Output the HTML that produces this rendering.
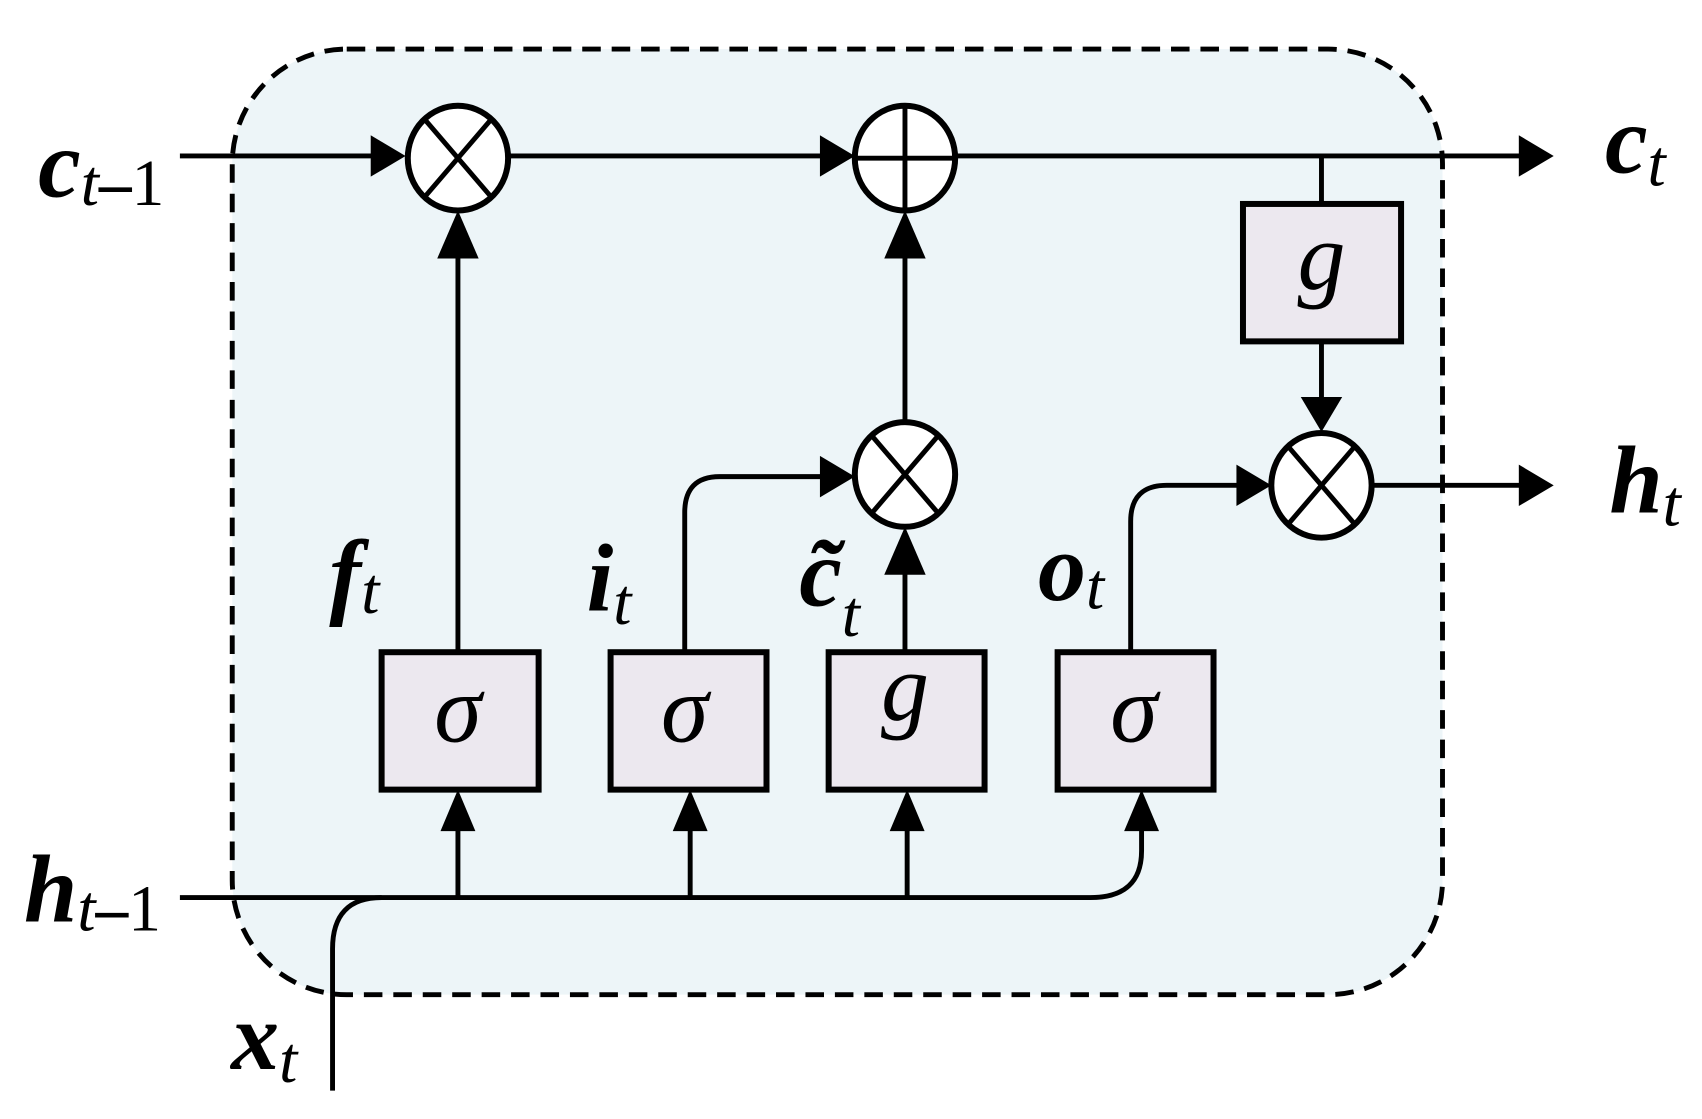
<!DOCTYPE html>
<html><head><meta charset="utf-8"><style>
html,body{margin:0;padding:0;background:#fff;}
svg{display:block;}
</style></head><body>
<svg width="1702" height="1119" viewBox="0 0 1561 1026" preserveAspectRatio="none" xmlns="http://www.w3.org/2000/svg" font-family="'Liberation Serif', 'Times New Roman', serif">
<rect x="213" y="45" width="1110" height="867" rx="105" ry="105" fill="#edf5f8" stroke="#000" stroke-width="4.5" stroke-dasharray="17,10"/>
<g stroke="#000" stroke-width="4.5" fill="none">
<line x1="165" y1="143" x2="350" y2="143"/>
<line x1="467" y1="143" x2="760" y2="143"/>
<line x1="877" y1="143" x2="1400" y2="143"/>
<line x1="1212" y1="143" x2="1212" y2="187"/>
<line x1="1212" y1="313" x2="1212" y2="375"/>
<line x1="1259" y1="445" x2="1400" y2="445"/>
<line x1="830" y1="388" x2="830" y2="215"/>
<line x1="830" y1="598" x2="830" y2="505"/>
<line x1="420" y1="598" x2="420" y2="215"/>
<path d="M628 598 V470 Q628 437 660 437 H760"/>
<path d="M1037 598 V478 Q1037 445 1070 445 H1142"/>
<path d="M165 823 H1000 Q1047 823 1047 780 V750"/>
<path d="M305 1000 V870 Q305 823 350 823"/>
<line x1="420" y1="823" x2="420" y2="750"/>
<line x1="633" y1="823" x2="633" y2="750"/>
<line x1="832" y1="823" x2="832" y2="750"/>
</g>
<g fill="#000">
<polygon points="372,143 340,124 340,162"/>
<polygon points="784,143 752,124 752,162"/>
<polygon points="1425,143 1393,124 1393,162"/>
<polygon points="1425,445 1393,426 1393,464"/>
<polygon points="1166,445 1134,426 1134,464"/>
<polygon points="784,437 752,418 752,456"/>
<polygon points="1212,396 1193,364 1231,364"/>
<polygon points="420,193 401,237 439,237"/>
<polygon points="830,193 811,237 849,237"/>
<polygon points="830,483 811,527 849,527"/>
<polygon points="420,724 404,762 436,762"/>
<polygon points="633,724 617,762 649,762"/>
<polygon points="832,724 816,762 848,762"/>
<polygon points="1047,724 1031,762 1063,762"/>
</g>
<g stroke="#000" stroke-width="5.5" fill="#fff">
<ellipse cx="420" cy="145" rx="46" ry="48"/>
<ellipse cx="830" cy="145" rx="46" ry="48"/>
<ellipse cx="830" cy="435" rx="46" ry="48"/>
<ellipse cx="1212" cy="445" rx="46" ry="48"/>
</g>
<g stroke="#000" stroke-width="4.5">
<line x1="390" y1="110" x2="450" y2="180"/><line x1="450" y1="110" x2="390" y2="180"/>
<line x1="800" y1="400" x2="860" y2="470"/><line x1="860" y1="400" x2="800" y2="470"/>
<line x1="1182" y1="410" x2="1242" y2="480"/><line x1="1242" y1="410" x2="1182" y2="480"/>
<line x1="784" y1="145" x2="876" y2="145"/><line x1="830" y1="97" x2="830" y2="193"/>
</g>
<g fill="#ece8ef" stroke="#000" stroke-width="5.5">
<rect x="1140" y="187" width="145" height="126"/>
<rect x="350" y="598" width="144" height="126"/>
<rect x="560" y="598" width="143" height="126"/>
<rect x="760" y="598" width="143" height="126"/>
<rect x="970" y="598" width="143" height="126"/>
</g>
<g font-style="italic" font-size="88" text-anchor="middle" font-family="'Liberation Serif', 'Times New Roman', serif">
<text x="1212" y="265">g</text>
<text x="420" y="680">σ</text>
<text x="628" y="680">σ</text>
<text x="830" y="660">g</text>
<text x="1040" y="680">σ</text>
</g>
<g font-size="88" font-family="'Liberation Serif', 'Times New Roman', serif">
<text x="35" y="180" font-weight="bold" font-style="italic">c<tspan font-weight="normal" font-size="60" dy="8">t</tspan><tspan font-size="60" font-weight="bold" font-style="normal">–</tspan><tspan font-size="60" font-weight="normal" font-style="normal">1</tspan></text>
<text x="22" y="845" font-weight="bold" font-style="italic">h<tspan font-weight="normal" font-size="60" dy="8">t</tspan><tspan font-size="60" font-weight="bold" font-style="normal">–</tspan><tspan font-size="60" font-weight="normal" font-style="normal">1</tspan></text>
<text x="1472" y="158" font-weight="bold" font-style="italic">c<tspan font-weight="normal" font-size="60" dy="12">t</tspan></text>
<text x="1476" y="470" font-weight="bold" font-style="italic">h<tspan font-weight="normal" font-size="60" dy="12">t</tspan></text>
<text x="212" y="980" font-weight="bold" font-style="italic">x<tspan font-weight="normal" font-size="60" dy="12">t</tspan></text>
<text x="302" y="556" font-weight="bold" font-style="italic">f<tspan font-weight="normal" font-size="60" dy="6">t</tspan></text>
<text x="538" y="560" font-weight="bold" font-style="italic">i<tspan font-weight="normal" font-size="60" dy="12">t</tspan></text>
<text x="733" y="555" font-weight="bold" font-style="italic">c̃<tspan font-weight="normal" font-size="60" dy="28">t</tspan></text>
<text x="952" y="550" font-weight="bold" font-style="italic">o<tspan font-weight="normal" font-size="60" dy="8">t</tspan></text>
</g>
</svg>
</body></html>
